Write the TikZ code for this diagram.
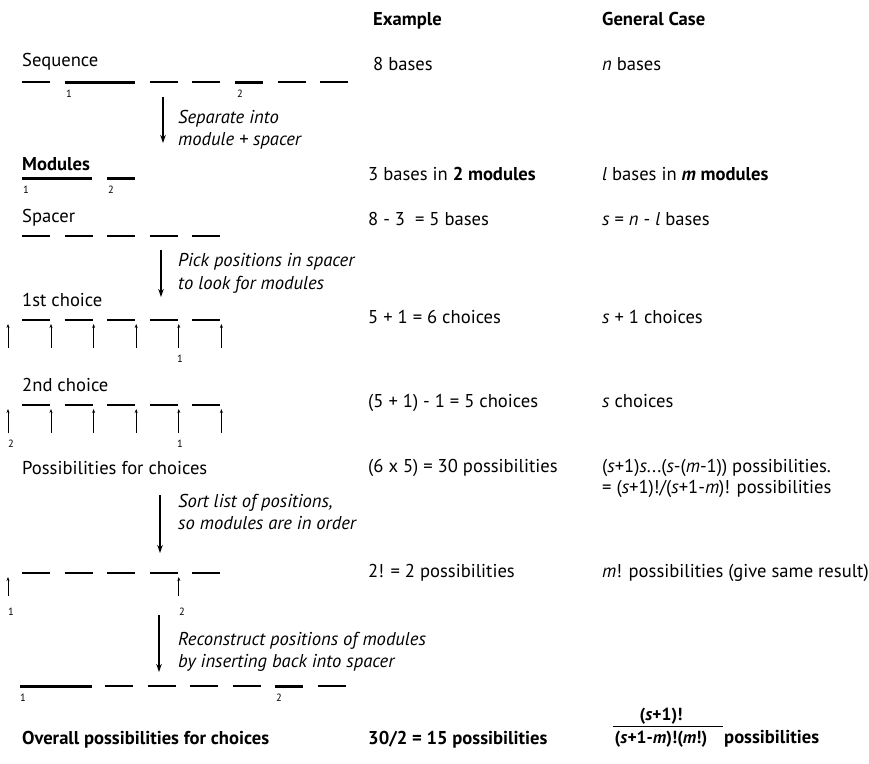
\documentclass[tikz,border=0pt]{standalone}
\usepackage{fontspec}
\setmainfont{PT Sans}
\usetikzlibrary{arrows.meta}
\begin{document}
\begin{tikzpicture}[x=1pt,y=-1pt,
  txt/.style={anchor=base west, inner sep=0pt, font=\fontsize{18.6}{22}\selectfont},
  btxt/.style={txt, font=\fontsize{18.6}{22}\selectfont\bfseries},
  note/.style={txt, font=\fontsize{18.6}{22}\selectfont\itshape},
  num/.style={anchor=base west, inner sep=0pt, font=\fontsize{10.5}{12}\selectfont},
  frac/.style={anchor=base, inner sep=0pt, font=\fontsize{17.5}{20}\selectfont\bfseries},
  dashln/.style={line width=1.3pt},
  modln/.style={line width=3pt},
  bigarrow/.style={line width=1.3pt, -{Stealth[length=8pt,width=5.5pt]}},
  tickarrow/.style={line width=1pt, -{Stealth[length=4pt,width=3pt]}}]
\useasboundingbox (0,0) rectangle (869,763);

% headers
\node[btxt] (hex) at (373,25) {Example};
\node[btxt] (hgc) at (602,25) {General Case};

% Sequence
\node[txt] (seq) at (22,66) {Sequence};
\foreach \x in {22,149.8,192.4,277.6,320.2} \draw[dashln] (\x,82) -- ++(28,0);
\draw[modln] (64.6,82) -- (135.2,82);
\draw[modln] (235,82) -- (263,82);
\node[num] (s1) at (66,97) {1};
\node[num] (s2) at (237,97) {2};
\node[txt] (e1) at (373,70) {8 bases};
\node[txt] (g1) at (602,70) {\textit{n} bases};

\coordinate (a1s) at (163,97); \coordinate (a1e) at (163,143);
\draw[bigarrow] (a1s) -- (a1e);
\node[note] (t1a) at (178,123) {Separate into};
\node[note] (t1b) at (178,145) {module + spacer};

% Modules
\node[btxt] (mod) at (22,170) {Modules};
\draw[modln] (22,178) -- (92,178);
\draw[modln] (107,178) -- (135,178);
\node[num] (m1) at (23,193) {1};
\node[num] (m2) at (108,193) {2};
\node[txt] (e2) at (368,180) {3 bases in \textbf{2 modules}};
\node[txt] (g2) at (602,180) {\textit{l} bases in \textbf{\textit{m} modules}};

% Spacer
\node[txt] (spc) at (22,222) {Spacer};
\foreach \x in {22,64.6,107.2,149.8,192.4} \draw[dashln] (\x,236) -- ++(28,0);
\node[txt] (e3) at (368,225) {8 - 3~~= 5 bases};
\node[txt] (g3) at (602,225) {\textit{s} = \textit{n} - \textit{l} bases};

\coordinate (a2s) at (161,250); \coordinate (a2e) at (161,297);
\draw[bigarrow] (a2s) -- (a2e);
\node[note] (t2a) at (178,266) {Pick positions in spacer};
\node[note] (t2b) at (178,289) {to look for modules};

% 1st choice
\node[txt] (c1) at (22,306) {1st choice};
\foreach \x in {22,64.6,107.2,149.8,192.4} \draw[dashln] (\x,320) -- ++(28,0);
\foreach \x in {8,51,93.6,136.2,178.8,221.4} \draw[tickarrow] (\x,348) -- (\x,324);
\node[num] (c1n) at (177,362) {1};
\node[txt] (e4) at (368,323) {5 + 1 = 6 choices};
\node[txt] (g4) at (602,323) {\textit{s} + 1 choices};

% 2nd choice
\node[txt] (c2) at (22,391) {2nd choice};
\foreach \x in {22,64.6,107.2,149.8,192.4} \draw[dashln] (\x,405) -- ++(28,0);
\foreach \x in {8,51,93.6,136.2,178.8,221.4} \draw[tickarrow] (\x,433) -- (\x,409);
\node[num] (c2n2) at (8,447) {2};
\node[num] (c2n1) at (177,447) {1};
\node[txt] (e5) at (368,407) {(5 + 1) - 1 = 5 choices};
\node[txt] (g5) at (602,407) {\textit{s} choices};

% Possibilities
\node[txt] (pos) at (22,474) {Possibilities for choices};
\node[txt] (e6) at (368,472) {(6 x 5) = 30 possibilities};
\node[txt] (g6a) at (602,472) {(\textit{s}+1)\textit{s}...(\textit{s}-(\textit{m}-1)) possibilities.};
\node[txt] (g6b) at (602,493) {= (\textit{s}+1)!/(\textit{s}+1-\textit{m})! possibilities};

\coordinate (a3s) at (160,495); \coordinate (a3e) at (160,553);
\draw[bigarrow] (a3s) -- (a3e);
\node[note] (t3a) at (178,507) {Sort list of positions,};
\node[note] (t3b) at (178,529) {so modules are in order};

% sorted
\foreach \x in {22,64.6,107.2,149.8,192.4} \draw[dashln] (\x,573) -- ++(28,0);
\foreach \x in {8,178.8} \draw[tickarrow] (\x,596) -- (\x,577);
\node[num] (o1) at (8,615) {1};
\node[num] (o2) at (179,615) {2};
\node[txt] (e7) at (368,577) {2! = 2 possibilities};
\node[txt] (g7) at (602,577) {\textit{m}! possibilities (give same result)};

\coordinate (a4s) at (159,615); \coordinate (a4e) at (159,672);
\draw[bigarrow] (a4s) -- (a4e);
\node[note] (t4a) at (178,645) {Reconstruct positions of modules};
\node[note] (t4b) at (178,667) {by inserting back into spacer};

% reconstructed
\draw[modln] (20,686) -- (92,686);
\foreach \x in {105,148,190,233,318} \draw[dashln] (\x,686) -- ++(28,0);
\draw[modln] (275,686) -- (303,686);
\node[num] (r1) at (20,701) {1};
\node[num] (r2) at (276,701) {2};

% overall
\node[btxt] (ov) at (22,744) {Overall possibilities for choices};
\node[btxt] (e8) at (368,744) {30/2 = 15 possibilities};
\node[btxt] (g8) at (724,743) {possibilities};
\node[frac] (fd) at (661,743) {(\textit{s}+1-\textit{m})!(\textit{m}!)};
\node[frac] (fn) at (661,720) {(\textit{s}+1)!};
\draw[line width=1.2pt] (fd.north west) ++(-2,-3.5) coordinate (fb1) -- ++(110,0) coordinate (fb2);
\end{tikzpicture}
\end{document}
